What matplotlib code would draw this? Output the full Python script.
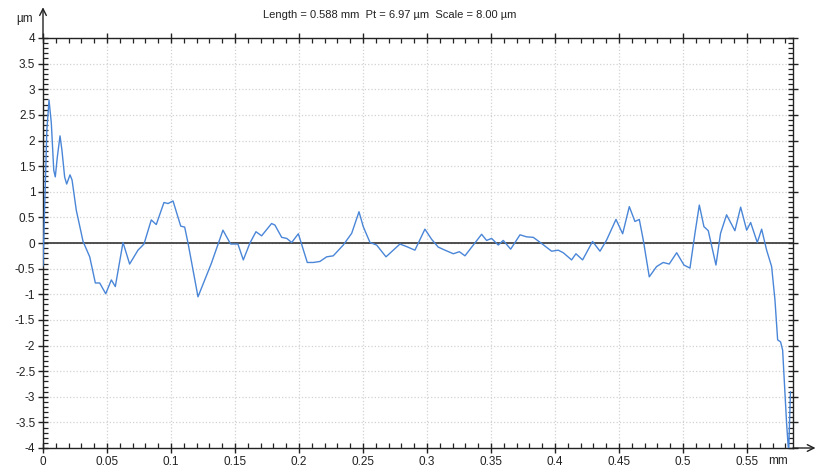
"""Surface roughness profile (µm over mm) redrawn from a profilometer screenshot."""

import matplotlib
matplotlib.use("Agg")
import matplotlib.pyplot as plt
from matplotlib.ticker import MultipleLocator

plt.rcParams["font.family"] = ["Liberation Sans", "DejaVu Sans"]

# profile
x_mm = [
    0.0000, 0.0012, 0.0030, 0.0047, 0.0065, 0.0084, 0.0096, 0.0112, 0.0133, 0.0148,
    0.0169, 0.0185, 0.0211, 0.0227, 0.0260, 0.0313, 0.0365, 0.0409, 0.0443, 0.0490,
    0.0534, 0.0565, 0.0625, 0.0677, 0.0742, 0.0789, 0.0846, 0.0885, 0.0945, 0.0977,
    0.1016, 0.1076, 0.1107, 0.1133, 0.1211, 0.1315, 0.1406, 0.1466, 0.1523, 0.1565,
    0.1617, 0.1664, 0.1708, 0.1786, 0.1812, 0.1865, 0.1904, 0.1943, 0.1995, 0.2065,
    0.2112, 0.2164, 0.2216, 0.2268, 0.2346, 0.2412, 0.2469, 0.2502, 0.2555, 0.2607,
    0.2680, 0.2737, 0.2789, 0.2841, 0.2906, 0.2984, 0.3023, 0.3037, 0.3088, 0.3141,
    0.3206, 0.3253, 0.3297, 0.3362, 0.3427, 0.3466, 0.3505, 0.3557, 0.3596, 0.3654,
    0.3727, 0.3779, 0.3831, 0.3896, 0.3974, 0.4026, 0.4065, 0.4130, 0.4164, 0.4216,
    0.4294, 0.4352, 0.4404, 0.4477, 0.4529, 0.4581, 0.4625, 0.4659, 0.4690, 0.4737,
    0.4794, 0.4846, 0.4893, 0.4951, 0.5008, 0.5055, 0.5094, 0.5128, 0.5164, 0.5198,
    0.5258, 0.5294, 0.5341, 0.5406, 0.5451, 0.5498, 0.5529, 0.5581, 0.5615, 0.5654,
    0.5693, 0.5719, 0.5740, 0.5763, 0.5779, 0.5810, 0.5826, 0.5840,
]
z_um = [
    -0.45, 0.60, 2.20, 2.79, 2.34, 1.42, 1.29, 1.68, 2.09, 1.81,
    1.29, 1.15, 1.33, 1.23, 0.64, 0.03, -0.27, -0.78, -0.78, -0.99,
    -0.72, -0.85, 0.01, -0.41, -0.14, -0.02, 0.45, 0.36, 0.79, 0.77,
    0.82, 0.33, 0.31, 0.00, -1.05, -0.40, 0.25, -0.02, -0.02, -0.33,
    0.00, 0.22, 0.14, 0.38, 0.35, 0.11, 0.09, 0.01, 0.18, -0.38,
    -0.38, -0.36, -0.27, -0.25, -0.04, 0.19, 0.61, 0.32, 0.01, -0.04,
    -0.27, -0.14, -0.02, -0.07, -0.14, 0.27, 0.12, 0.07, -0.08, -0.14,
    -0.21, -0.17, -0.25, -0.04, 0.17, 0.05, 0.09, -0.04, 0.05, -0.12,
    0.16, 0.12, 0.11, -0.01, -0.16, -0.14, -0.19, -0.33, -0.21, -0.33,
    0.03, -0.16, 0.06, 0.46, 0.18, 0.71, 0.42, 0.46, 0.06, -0.66,
    -0.46, -0.38, -0.41, -0.19, -0.43, -0.49, 0.19, 0.74, 0.32, 0.24,
    -0.43, 0.19, 0.55, 0.24, 0.70, 0.25, 0.40, 0.01, 0.27, -0.14,
    -0.46, -1.11, -1.89, -1.93, -2.09, -3.52, -4.10, -2.90,
]

x_ticks = [0, 0.05, 0.1, 0.15, 0.2, 0.25, 0.3, 0.35, 0.4, 0.45, 0.5, 0.55]
x_labels = ["0", "0.05", "0.1", "0.15", "0.2", "0.25", "0.3", "0.35", "0.4", "0.45", "0.5", "0.55"]
y_ticks = [4, 3.5, 3, 2.5, 2, 1.5, 1, 0.5, 0, -0.5, -1, -1.5, -2, -2.5, -3, -3.5, -4]
y_labels = ["4", "3.5", "3", "2.5", "2", "1.5", "1", "0.5", "0", "-0.5", "-1", "-1.5",
            "-2", "-2.5", "-3", "-3.5", "-4"]

fig = plt.figure(figsize=(8.17, 4.72), dpi=100)
ax = fig.add_axes([43 / 817, 1 - 448 / 472, 750 / 817, 410 / 472])

ax.plot(x_mm, z_um, color="#4a86d8", lw=1.0, zorder=3,
        solid_joinstyle="round", solid_capstyle="round")
ax.axhline(0, color="#222222", lw=1.1, zorder=2)

ax.set_xlim(0, 0.586)
ax.set_ylim(-4, 4)
ax.set_xticks(x_ticks)
ax.set_xticklabels(x_labels)
ax.set_yticks(y_ticks)
ax.set_yticklabels(y_labels)
ax.xaxis.set_minor_locator(MultipleLocator(0.01))
ax.yaxis.set_minor_locator(MultipleLocator(0.1))
ax.grid(True, which="major", color="#d2d2d2", ls=":", lw=0.9)

ax.tick_params(which="major", direction="inout", length=7, width=1, labelsize=8.5,
               top=True, right=True, pad=2, colors="#222222", labelcolor="#222222")
ax.tick_params(which="minor", direction="in", length=3.5, width=0.9,
               top=True, right=True, colors="#222222")
for s in ax.spines.values():
    s.set_color("#222222")
    s.set_linewidth(1.0)

# axis arrows and units
ax.annotate("", xy=(0, 1.075), xytext=(0, 1.0), xycoords="axes fraction",
            arrowprops=dict(arrowstyle="->", color="#222222", lw=1.0,
                            mutation_scale=12, shrinkA=0, shrinkB=0))
ax.annotate("", xy=(1.03, 0), xytext=(1.0, 0), xycoords="axes fraction",
            arrowprops=dict(arrowstyle="->", color="#222222", lw=1.0,
                            mutation_scale=12, shrinkA=0, shrinkB=0))
fig.text(25 / 817, 1 - 19 / 472, "µm", fontsize=8.5, ha="center", va="center",
         color="#222222")
fig.text(768 / 817, 1 - 461 / 472, "mm", fontsize=8.5, ha="left", va="center",
         color="#222222")
fig.text(390 / 817, 1 - 15 / 472, "Length = 0.588 mm  Pt = 6.97 µm  Scale = 8.00 µm",
         fontsize=8, ha="center", va="center", color="#222222")

fig.savefig("out.png", dpi=100)
